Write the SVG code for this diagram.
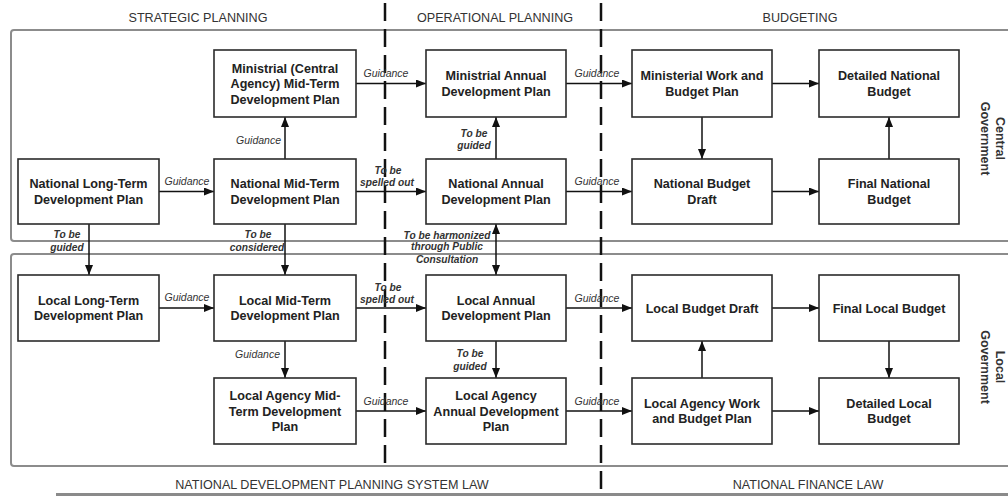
<svg xmlns="http://www.w3.org/2000/svg" width="1008" height="496" viewBox="0 0 1008 496">
  <style>
    .frame { fill: none; stroke: #8c8c8c; stroke-width: 2; }
    .divider { stroke: #111; stroke-width: 2.5; stroke-dasharray: 18 8; fill: none; }
    .node rect { fill: #fff; stroke: #2b2b2b; stroke-width: 1.6; }
    .node text { font-family: "Liberation Sans", Arial, sans-serif; font-size: 12.6px; font-weight: bold; fill: #222; text-anchor: middle; }
    .hdr { font-family: "Liberation Sans", Arial, sans-serif; font-size: 12.6px; fill: #333; text-anchor: middle; }
    .side { font-family: "Liberation Sans", Arial, sans-serif; font-size: 12.5px; font-weight: bold; fill: #333; text-anchor: middle; }
    .conn line { stroke: #111; stroke-width: 1.5; marker-end: url(#ah); }
    .lbl { font-family: "Liberation Sans", Arial, sans-serif; font-size: 10.5px; font-style: italic; fill: #333; text-anchor: middle; }
    .lbl.b { font-weight: bold; font-size: 10.2px; }
    .lbl.r { text-anchor: end; }
  </style>
  <defs>
    <marker id="ah" markerUnits="userSpaceOnUse" markerWidth="11" markerHeight="9" refX="10" refY="4" orient="auto-start-reverse">
      <path d="M0,0 L10,4 L0,8 Z" fill="#111"/>
    </marker>
  </defs>

  <rect width="1008" height="496" fill="#fff"/>

  <!-- column headers -->
  <g id="headers">
    <text class="hdr" x="198" y="22">STRATEGIC PLANNING</text>
    <text class="hdr" x="495" y="22">OPERATIONAL PLANNING</text>
    <text class="hdr" x="800" y="22">BUDGETING</text>
  </g>

  <!-- government level frames (open on the right) -->
  <g id="frames">
    <rect class="frame" x="11" y="30" width="1020" height="211" rx="3"/>
    <rect class="frame" x="11" y="254" width="1020" height="212" rx="3"/>
  </g>

  <!-- planning phase dividers -->
  <g id="dividers">
    <line class="divider" x1="385" y1="3" x2="385" y2="465"/>
    <line class="divider" x1="601" y1="3" x2="601" y2="496"/>
  </g>

  <!-- side labels, read top to bottom -->
  <g id="side-labels">
    <text class="side" transform="translate(1000,138.5) rotate(90)"><tspan x="0" y="4">Central</tspan><tspan x="0" y="19">Government</tspan></text>
    <text class="side" transform="translate(1000,367) rotate(90)"><tspan x="0" y="4">Local</tspan><tspan x="0" y="19">Government</tspan></text>
  </g>

  <!-- legal basis -->
  <g id="footer">
    <text class="hdr" x="332" y="489">NATIONAL DEVELOPMENT PLANNING SYSTEM LAW</text>
    <text class="hdr" x="808" y="489">NATIONAL FINANCE  LAW</text>
    <rect x="56" y="493" width="952" height="3" fill="#8a8a8a"/>
  </g>

  <!-- connectors -->
  <g id="connectors" class="conn">
    <line x1="159" y1="191.5" x2="214" y2="191.5"/>
    <line x1="285" y1="159" x2="285" y2="117"/>
    <line x1="356" y1="83.5" x2="426" y2="83.5"/>
    <line x1="356" y1="191.5" x2="426" y2="191.5"/>
    <line x1="496" y1="159" x2="496" y2="117"/>
    <line x1="566" y1="83.5" x2="632" y2="83.5"/>
    <line x1="566" y1="191.5" x2="632" y2="191.5"/>
    <line x1="772" y1="83.5" x2="819" y2="83.5"/>
    <line x1="702" y1="117" x2="702" y2="159"/>
    <line x1="772" y1="191.5" x2="819" y2="191.5"/>
    <line x1="889" y1="159" x2="889" y2="117"/>
    <line x1="89" y1="224" x2="89" y2="275"/>
    <line x1="285" y1="224" x2="285" y2="275"/>
    <line x1="496" y1="224" x2="496" y2="275" marker-start="url(#ah)"/>
    <line x1="159" y1="308" x2="214" y2="308"/>
    <line x1="356" y1="308" x2="426" y2="308"/>
    <line x1="285" y1="341" x2="285" y2="378"/>
    <line x1="496" y1="341" x2="496" y2="378"/>
    <line x1="566" y1="308" x2="632" y2="308"/>
    <line x1="356" y1="411" x2="426" y2="411"/>
    <line x1="566" y1="411" x2="632" y2="411"/>
    <line x1="772" y1="308" x2="819" y2="308"/>
    <line x1="702" y1="378" x2="702" y2="341"/>
    <line x1="889" y1="341" x2="889" y2="378"/>
    <line x1="772" y1="411" x2="819" y2="411"/>
  </g>

  <!-- connector labels -->
  <g id="connector-labels">
    <text class="lbl" x="187" y="185">Guidance</text>
    <text class="lbl r" x="281" y="144">Guidance</text>
    <text class="lbl" x="386" y="77">Guidance</text>
    <text class="lbl b" x="388" y="174">To be</text>
    <text class="lbl b" x="387" y="186">spelled out</text>
    <text class="lbl b" x="474" y="137">To be</text>
    <text class="lbl b" x="474" y="149">guided</text>
    <text class="lbl" x="597" y="77">Guidance</text>
    <text class="lbl" x="597" y="185">Guidance</text>
    <text class="lbl b" x="67" y="238">To be</text>
    <text class="lbl b" x="67" y="251">guided</text>
    <text class="lbl b" x="258" y="238">To be</text>
    <text class="lbl b" x="257" y="251">considered</text>
    <text class="lbl b" x="447" y="238.5">To be harmonized</text>
    <text class="lbl b" x="447" y="250">through Public</text>
    <text class="lbl b" x="447" y="262.5">Consultation</text>
    <text class="lbl" x="187" y="301">Guidance</text>
    <text class="lbl b" x="388" y="291">To be</text>
    <text class="lbl b" x="387" y="303">spelled out</text>
    <text class="lbl r" x="280" y="358">Guidance</text>
    <text class="lbl b" x="470" y="356.5">To be</text>
    <text class="lbl b" x="470" y="369.5">guided</text>
    <text class="lbl" x="597" y="302">Guidance</text>
    <text class="lbl" x="386" y="405">Guidance</text>
    <text class="lbl" x="597" y="405">Guidance</text>
  </g>

  <!-- central government nodes -->
  <g id="ministrial-mid-term" class="node">
    <rect x="214" y="50" width="142" height="67"/>
    <text><tspan x="285" y="72.5">Ministrial (Central</tspan><tspan x="285" y="88">Agency) Mid-Term</tspan><tspan x="285" y="103.5">Development Plan</tspan></text>
  </g>
  <g id="ministrial-annual" class="node">
    <rect x="426" y="50" width="140" height="67"/>
    <text><tspan x="496" y="80.25">Ministrial Annual</tspan><tspan x="496" y="95.75">Development Plan</tspan></text>
  </g>
  <g id="ministerial-work-budget" class="node">
    <rect x="632" y="50" width="140" height="67"/>
    <text><tspan x="702" y="80.25">Ministerial Work and</tspan><tspan x="702" y="95.75">Budget Plan</tspan></text>
  </g>
  <g id="detailed-national-budget" class="node">
    <rect x="819" y="50" width="140" height="67"/>
    <text><tspan x="889" y="80.25">Detailed National</tspan><tspan x="889" y="95.75">Budget</tspan></text>
  </g>
  <g id="national-long-term" class="node">
    <rect x="18" y="159" width="141" height="65"/>
    <text><tspan x="88.5" y="188.25">National Long-Term</tspan><tspan x="88.5" y="203.75">Development Plan</tspan></text>
  </g>
  <g id="national-mid-term" class="node">
    <rect x="214" y="159" width="142" height="65"/>
    <text><tspan x="285" y="188.25">National Mid-Term</tspan><tspan x="285" y="203.75">Development Plan</tspan></text>
  </g>
  <g id="national-annual" class="node">
    <rect x="426" y="159" width="140" height="65"/>
    <text><tspan x="496" y="188.25">National Annual</tspan><tspan x="496" y="203.75">Development Plan</tspan></text>
  </g>
  <g id="national-budget-draft" class="node">
    <rect x="632" y="159" width="140" height="65"/>
    <text><tspan x="702" y="188.25">National Budget</tspan><tspan x="702" y="203.75">Draft</tspan></text>
  </g>
  <g id="final-national-budget" class="node">
    <rect x="819" y="159" width="140" height="65"/>
    <text><tspan x="889" y="188.25">Final National</tspan><tspan x="889" y="203.75">Budget</tspan></text>
  </g>

  <!-- local government nodes -->
  <g id="local-long-term" class="node">
    <rect x="18" y="275" width="141" height="66"/>
    <text><tspan x="88.5" y="304.75">Local Long-Term</tspan><tspan x="88.5" y="320.25">Development Plan</tspan></text>
  </g>
  <g id="local-mid-term" class="node">
    <rect x="214" y="275" width="142" height="66"/>
    <text><tspan x="285" y="304.75">Local Mid-Term</tspan><tspan x="285" y="320.25">Development Plan</tspan></text>
  </g>
  <g id="local-annual" class="node">
    <rect x="426" y="275" width="140" height="66"/>
    <text><tspan x="496" y="304.75">Local Annual</tspan><tspan x="496" y="320.25">Development Plan</tspan></text>
  </g>
  <g id="local-budget-draft" class="node">
    <rect x="632" y="275" width="140" height="66"/>
    <text x="702" y="312.5">Local Budget Draft</text>
  </g>
  <g id="final-local-budget" class="node">
    <rect x="819" y="275" width="140" height="66"/>
    <text x="889" y="312.5">Final Local Budget</text>
  </g>
  <g id="local-agency-mid-term" class="node">
    <rect x="214" y="378" width="142" height="66"/>
    <text><tspan x="285" y="400">Local Agency Mid-</tspan><tspan x="285" y="415.5">Term Development</tspan><tspan x="285" y="431">Plan</tspan></text>
  </g>
  <g id="local-agency-annual" class="node">
    <rect x="426" y="378" width="140" height="66"/>
    <text><tspan x="496" y="400">Local Agency</tspan><tspan x="496" y="415.5">Annual Development</tspan><tspan x="496" y="431">Plan</tspan></text>
  </g>
  <g id="local-agency-work-budget" class="node">
    <rect x="632" y="378" width="140" height="66"/>
    <text><tspan x="702" y="407.75">Local Agency Work</tspan><tspan x="702" y="423.25">and Budget Plan</tspan></text>
  </g>
  <g id="detailed-local-budget" class="node">
    <rect x="819" y="378" width="140" height="66"/>
    <text><tspan x="889" y="407.75">Detailed Local</tspan><tspan x="889" y="423.25">Budget</tspan></text>
  </g>
</svg>
